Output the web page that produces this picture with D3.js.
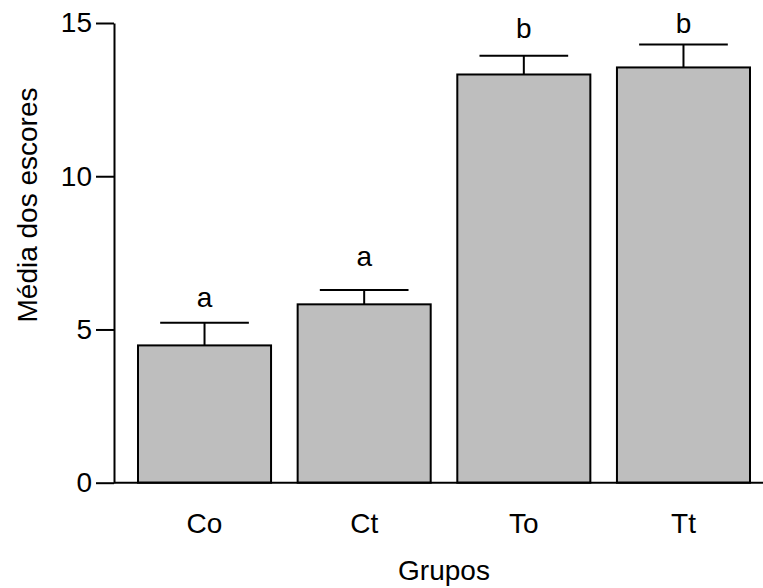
<!DOCTYPE html>
<html>
<head>
<meta charset="utf-8">
<script src="https://cdn.jsdelivr.net/npm/d3@7"></script>
<style>
  body { margin: 0; background: #fff; }
  text { font-family: "Liberation Sans", Arial, sans-serif; fill: #000; }
</style>
</head>
<body>
<div id="chart"></div>
<script>
// Data
const groups = ["Co", "Ct", "To", "Tt"];
const means = [4.48, 5.82, 13.32, 13.55];
const upperErr = [5.22, 6.29, 13.93, 14.30];
const letters = ["a", "a", "b", "b"];
const letterPos = [5.74, 7.07, 14.5, 14.69];
const yTicks = [0, 5, 10, 15];

const W = 763, H = 588;
const axisX = 114, barLeft = 138, barRight = 750;
const yTop = 23, yBottom = 482.7;

const svg = d3.select("#chart").append("svg")
    .attr("width", W)
    .attr("height", H);

const x = d3.scaleBand()
    .domain(groups)
    .range([barLeft, barRight])
    .paddingInner(0.2 / 1.2)
    .paddingOuter(0);

const y = d3.scaleLinear()
    .domain([0, 15])
    .range([yBottom, yTop]);

// Bars
svg.selectAll("rect.bar")
    .data(groups)
    .enter()
    .append("rect")
    .attr("class", "bar")
    .attr("x", d => x(d))
    .attr("y", (d, i) => y(means[i]))
    .attr("width", x.bandwidth())
    .attr("height", (d, i) => y(0) - y(means[i]))
    .attr("fill", "#bebebe")
    .attr("stroke", "#000")
    .attr("stroke-width", 2);

// Error bars (upper half only)
const cx = d => x(d) + x.bandwidth() / 2;
const capW = x.bandwidth() / 3;
svg.selectAll("line.err")
    .data(groups)
    .enter()
    .append("line")
    .attr("class", "err")
    .attr("x1", cx).attr("x2", cx)
    .attr("y1", (d, i) => y(means[i]))
    .attr("y2", (d, i) => y(upperErr[i]))
    .attr("stroke", "#000").attr("stroke-width", 2);

svg.selectAll("line.cap")
    .data(groups)
    .enter()
    .append("line")
    .attr("class", "cap")
    .attr("x1", d => cx(d) - capW).attr("x2", d => cx(d) + capW)
    .attr("y1", (d, i) => y(upperErr[i]))
    .attr("y2", (d, i) => y(upperErr[i]))
    .attr("stroke", "#000").attr("stroke-width", 2);

// Significance letters
svg.selectAll("text.letter")
    .data(groups)
    .enter()
    .append("text")
    .attr("class", "letter")
    .attr("x", cx)
    .attr("y", (d, i) => y(letterPos[i]))
    .attr("text-anchor", "middle")
    .style("font-size", "28px")
    .text((d, i) => letters[i]);

// Y axis
const yAxis = svg.append("g")
    .attr("transform", `translate(${axisX},0)`)
    .call(d3.axisLeft(y).tickValues(yTicks).tickSize(18).tickPadding(4).tickSizeOuter(0));
yAxis.select(".domain").attr("stroke-width", 2);
yAxis.selectAll(".tick line").attr("stroke-width", 2);
yAxis.selectAll(".tick text")
    .style("font-size", "28px")
    .style("font-family", "Liberation Sans, Arial, sans-serif");

// X baseline
svg.append("line")
    .attr("x1", axisX).attr("x2", W)
    .attr("y1", y(0)).attr("y2", y(0))
    .attr("stroke", "#000").attr("stroke-width", 2);

// X category labels
svg.selectAll("text.cat")
    .data(groups)
    .enter()
    .append("text")
    .attr("class", "cat")
    .attr("x", cx)
    .attr("y", 533)
    .attr("text-anchor", "middle")
    .style("font-size", "28px")
    .text(d => d);

// Axis titles
svg.append("text")
    .attr("x", 444)
    .attr("y", 580)
    .attr("text-anchor", "middle")
    .style("font-size", "28px")
    .text("Grupos");

svg.append("text")
    .attr("transform", "translate(37,205) rotate(-90)")
    .attr("text-anchor", "middle")
    .style("font-size", "28px")
    .text("Média dos escores");
</script>
</body>
</html>
